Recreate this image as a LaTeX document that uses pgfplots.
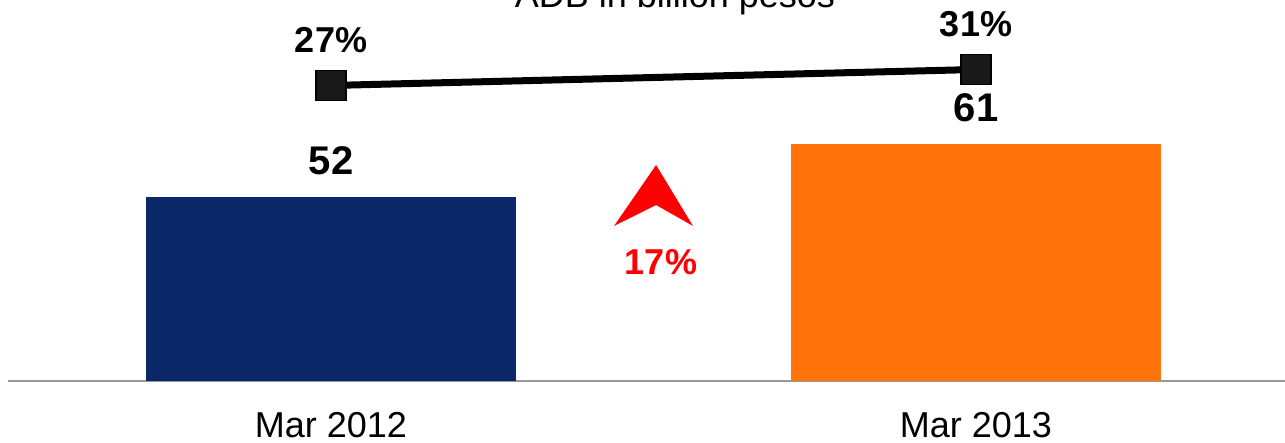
\documentclass[border=0pt]{standalone}
\usepackage{pgfplots}
\pgfplotsset{compat=1.18}
\usepackage{fontspec}
\setmainfont{Liberation Sans}
\definecolor{navy}{RGB}{10,40,104}
\definecolor{orng}{RGB}{255,115,10}
\begin{document}
\begin{tikzpicture}
\pgfplotsset{/pgf/number format/assume math mode=true}
\begin{axis}[
 at={(8pt,62pt)}, anchor=south west, scale only axis, width=1277pt, height=381pt,
 xmin=-0.50078, xmax=1.47907, ymin=20.755, ymax=85.453,
 axis x line*=bottom, axis y line=none,
 x axis line style={-, draw=black!40, line width=2pt},
 xtick={0,1}, xticklabels={Mar 2012, Mar 2013}, major tick length=0,
 xticklabel style={anchor=base, yshift=-57pt, font=\fontsize{36}{43}\selectfont},
 ybar, bar width=370pt,
 title={ADB in billion pesos},
 title style={at={(0.5223,1)}, anchor=base, yshift=-14pt, font=\fontsize{36}{43}\selectfont},
 nodes near coords,
 nodes near coords style={anchor=center, yshift=36pt, font=\fontsize{40}{48}\selectfont\bfseries, text=black},
 clip=false,
]
\addplot[fill=navy, draw=none, bar shift=0pt] coordinates {(0,52)};
\addplot[fill=orng, draw=none, bar shift=0pt] coordinates {(1,61)};
\fill[red] (axis cs:0.504,57.43) -- (axis cs:0.5612,47.08) -- (axis cs:0.504,50.64) -- (axis cs:0.4388,47.08) -- cycle;
\node[text=red, font=\fontsize{36}{43}\selectfont\bfseries] at (axis cs:0.5116,40.96) {17\%};
\end{axis}
\begin{axis}[
 at={(8pt,62pt)}, anchor=south west, scale only axis, width=1277pt, height=381pt,
 xmin=-0.50078, xmax=1.47907, ymin=-46.875, ymax=48.375,
 hide axis, clip=false,
]
\addplot[black, line width=7pt, mark=square*, mark size=15pt,
  mark options={fill=black!90, draw=black, line width=1.5pt},
  nodes near coords={\pgfmathprintnumber{\pgfplotspointmeta}\%},
  nodes near coords style={anchor=center, yshift=45pt, font=\fontsize{36}{43}\selectfont\bfseries, text=black}]
  coordinates {(0,27) (1,31)};
\end{axis}
\pgfresetboundingbox
\path (0,0) rectangle (1285pt,443pt);
\end{tikzpicture}
\end{document}
